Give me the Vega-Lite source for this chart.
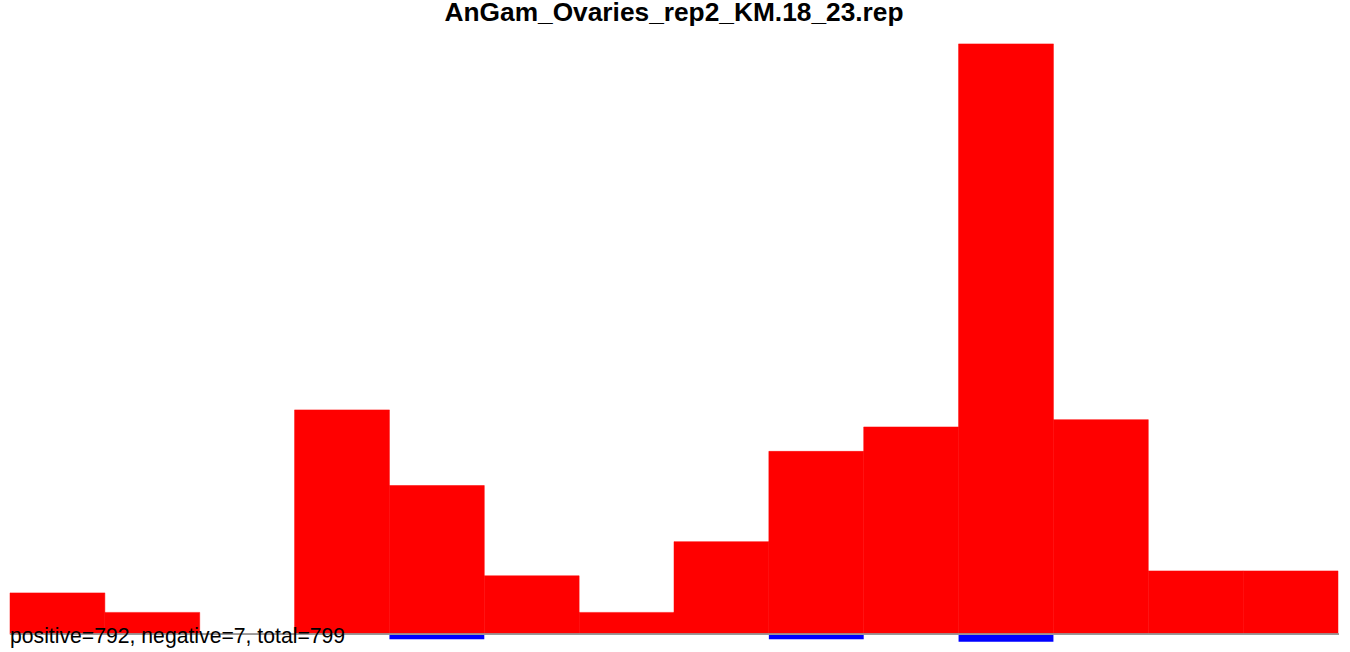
{
  "$schema": "https://vega.github.io/schema/vega-lite/v6.json",
  "width": 1328,
  "height": 610,
  "autosize": {"type": "none"},
  "padding": {"left": 10, "right": 12, "top": 39, "bottom": 3},
  "background": "white",
  "config": {"view": {"stroke": null}},
  "title": {
    "text": "AnGam_Ovaries_rep2_KM.18_23.rep",
    "font": "Liberation Sans",
    "fontSize": 26.3,
    "fontWeight": "bold",
    "color": "black",
    "anchor": "middle",
    "offset": 13
  },
  "datasets": {
    "bins": [
      {"bin": 0, "bin_end": 1, "positive": 17, "negative": 0},
      {"bin": 1, "bin_end": 2, "positive": 9, "negative": 0},
      {"bin": 2, "bin_end": 3, "positive": 0, "negative": 0},
      {"bin": 3, "bin_end": 4, "positive": 92, "negative": 0},
      {"bin": 4, "bin_end": 5, "positive": 61, "negative": -2},
      {"bin": 5, "bin_end": 6, "positive": 24, "negative": 0},
      {"bin": 6, "bin_end": 7, "positive": 9, "negative": 0},
      {"bin": 7, "bin_end": 8, "positive": 38, "negative": 0},
      {"bin": 8, "bin_end": 9, "positive": 75, "negative": -2},
      {"bin": 9, "bin_end": 10, "positive": 85, "negative": 0},
      {"bin": 10, "bin_end": 11, "positive": 242, "negative": -3},
      {"bin": 11, "bin_end": 12, "positive": 88, "negative": 0},
      {"bin": 12, "bin_end": 13, "positive": 26, "negative": 0},
      {"bin": 13, "bin_end": 14, "positive": 26, "negative": 0}
    ],
    "summary": [{"label": "positive=792, negative=7, total=799"}]
  },
  "data": {"name": "bins"},
  "layer": [
    {
      "mark": {"type": "bar", "color": "#ff0000", "stroke": "#ff0000", "strokeWidth": 0.5},
      "encoding": {
        "x": {"field": "bin", "type": "quantitative", "scale": {"domain": [0, 14], "nice": false, "zero": false}, "axis": null},
        "x2": {"field": "bin_end"},
        "y": {"field": "positive", "type": "quantitative", "scale": {"domain": [-6, 244], "nice": false, "zero": false}, "axis": null},
        "y2": {"datum": 0}
      }
    },
    {
      "mark": {"type": "bar", "color": "#0000ff", "stroke": null},
      "encoding": {
        "x": {"field": "bin", "type": "quantitative"},
        "x2": {"field": "bin_end"},
        "y": {"field": "negative", "type": "quantitative"},
        "y2": {"datum": 0}
      }
    },
    {
      "mark": {"type": "rule", "color": "#999999", "strokeWidth": 1},
      "encoding": {
        "x": {"datum": 0, "type": "quantitative"},
        "x2": {"datum": 14.01},
        "y": {"datum": 0, "type": "quantitative"}
      }
    },
    {
      "data": {"name": "summary"},
      "mark": {"type": "text", "font": "Liberation Sans", "fontSize": 21.2, "color": "#000000", "align": "left", "baseline": "alphabetic"},
      "encoding": {
        "text": {"field": "label"},
        "x": {"datum": 0, "type": "quantitative"},
        "y": {"datum": -3.5, "type": "quantitative"}
      }
    }
  ]
}
